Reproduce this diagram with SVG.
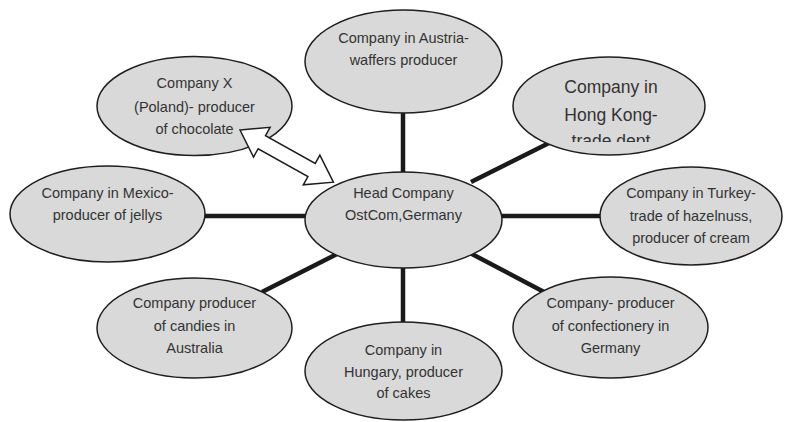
<svg xmlns="http://www.w3.org/2000/svg" width="788" height="422" viewBox="0 0 788 422">
  <defs>
    <style>
      .node ellipse { fill: #d9d9d9; stroke: #1e1e1e; stroke-width: 1.5; }
      .node text { font-family: "Liberation Sans", Arial, sans-serif; font-size: 14.5px; fill: #333333; text-anchor: middle; }
      .node text.big { font-size: 17.5px; }
      .link { stroke: #1a1a1a; stroke-width: 4.5; stroke-linecap: butt; fill: none; }
      .dbl { fill: #ffffff; stroke: #1e1e1e; stroke-width: 1.5; stroke-linejoin: miter; }
    </style>
    <clipPath id="hkClip">
      <rect x="500" y="55" width="220" height="87"/>
    </clipPath>
  </defs>

  <!-- spokes from the head company -->
  <g id="connectors">
    <line class="link" x1="403" y1="112" x2="403" y2="173"/>
    <line class="link" x1="403" y1="267" x2="403" y2="323"/>
    <line class="link" x1="204" y1="216" x2="306" y2="216"/>
    <line class="link" x1="500" y1="216" x2="601" y2="216"/>
    <line class="link" x1="471" y1="182" x2="549" y2="143"/>
    <line class="link" x1="262" y1="292" x2="337" y2="254"/>
    <line class="link" x1="470" y1="253" x2="546" y2="293"/>
  </g>

  <g id="head" class="node">
    <ellipse cx="403.5" cy="220" rx="98.5" ry="48"/>
    <text x="403.5" y="198">Head Company</text>
    <text x="403.5" y="220">OstCom,Germany</text>
  </g>

  <g id="austria" class="node">
    <ellipse cx="403.5" cy="61.5" rx="98.5" ry="51.5"/>
    <text x="403.5" y="43">Company in Austria-</text>
    <text x="403.5" y="65">waffers producer</text>
  </g>

  <g id="poland" class="node">
    <ellipse cx="194.5" cy="106" rx="97.5" ry="49.5"/>
    <text x="194.5" y="88">Company X</text>
    <text x="194.5" y="112">(Poland)- producer</text>
    <text x="194.5" y="134">of chocolate</text>
  </g>

  <g id="hongkong" class="node">
    <ellipse cx="609" cy="106" rx="96" ry="49"/>
    <!-- third line overflows the shape and is cut off -->
    <g clip-path="url(#hkClip)">
      <text class="big" x="611" y="93">Company in</text>
      <text class="big" x="611" y="121">Hong Kong-</text>
      <text class="big" x="611" y="146.5">trade dept</text>
    </g>
  </g>

  <g id="mexico" class="node">
    <ellipse cx="107.5" cy="214" rx="97.5" ry="48"/>
    <text x="107.5" y="198">Company in Mexico-</text>
    <text x="107.5" y="220">producer of jellys</text>
  </g>

  <g id="turkey" class="node">
    <ellipse cx="691" cy="216" rx="91" ry="49"/>
    <text x="691" y="198">Company in Turkey-</text>
    <text x="691" y="221">trade of hazelnuss,</text>
    <text x="691" y="243">producer of cream</text>
  </g>

  <g id="australia" class="node">
    <ellipse cx="194.5" cy="328" rx="97.5" ry="50"/>
    <text x="194.5" y="308">Company producer</text>
    <text x="194.5" y="331">of candies in</text>
    <text x="194.5" y="353">Australia</text>
  </g>

  <g id="hungary" class="node">
    <ellipse cx="403.5" cy="371" rx="98.5" ry="49"/>
    <text x="403.5" y="355">Company in</text>
    <text x="403.5" y="377">Hungary, producer</text>
    <text x="403.5" y="398">of cakes</text>
  </g>

  <g id="confectionery" class="node">
    <ellipse cx="610.5" cy="327.5" rx="97.5" ry="50.5"/>
    <text x="610.5" y="308">Company- producer</text>
    <text x="610.5" y="331">of confectionery in</text>
    <text x="610.5" y="353">Germany</text>
  </g>

  <!-- two-way block arrow between Company X and the head company -->
  <g id="exchange">
    <polygon class="dbl" transform="translate(240,130) rotate(29.2)"
      points="0,0 25,-17 25,-7.5 82,-7.5 82,-17 107,0 82,17 82,7.5 25,7.5 25,17"/>
  </g>
</svg>
